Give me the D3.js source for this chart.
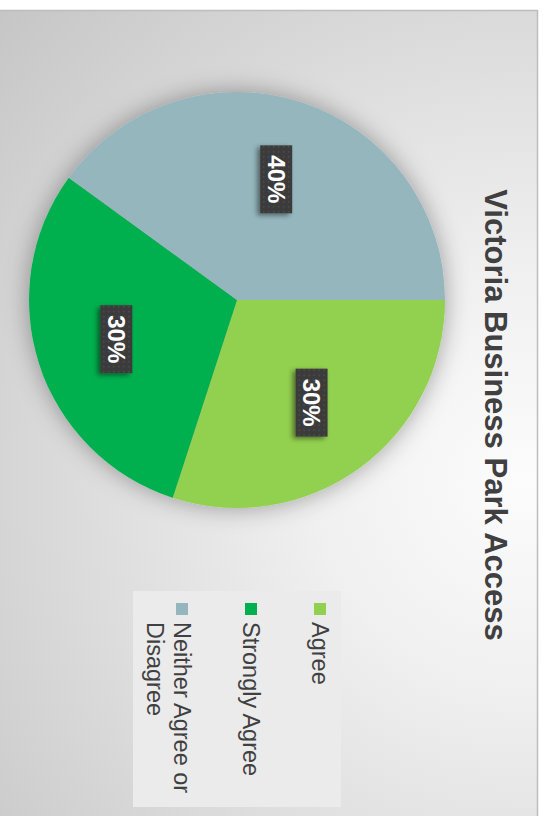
<!DOCTYPE html>
<html>
<head>
<meta charset="utf-8">
<script src="https://cdn.jsdelivr.net/npm/d3@7"></script>
<style>
  body { margin: 0; background: #fff; }
  svg { display: block; }
</style>
</head>
<body>
<div id="chart"></div>
<script>
// data
const categories = ["Agree", "Strongly Agree", "Neither Agree or Disagree"];
const values = [30, 30, 40];
const colors = ["#92D050", "#00B050", "#94B6BC"];
const legendLines = [["Agree"], ["Strongly Agree"], ["Neither Agree or", "Disagree"]];
const title = "Victoria Business Park Access";

const data = categories.map((c, i) => ({name: c, value: values[i], lines: legendLines[i]}));

// page is 544x816, the chart itself is drawn landscape and turned a quarter clockwise
const pageW = 544, pageH = 816;
const W = pageH, H = pageW;

const svg = d3.select("#chart").append("svg")
  .attr("width", pageW)
  .attr("height", pageH);

const defs = svg.append("defs");

const bg = defs.append("radialGradient")
  .attr("id", "bg")
  .attr("gradientUnits", "userSpaceOnUse")
  .attr("cx", 480).attr("cy", 20).attr("r", 700);
bg.append("stop").attr("offset", 0).attr("stop-color", "#fcfcfc");
bg.append("stop").attr("offset", 0.3).attr("stop-color", "#f0f0f0");
bg.append("stop").attr("offset", 1).attr("stop-color", "#c6c6c6");

const pieShadow = defs.append("filter").attr("id", "pieShadow")
  .attr("x", "-30%").attr("y", "-30%").attr("width", "160%").attr("height", "160%");
pieShadow.append("feDropShadow")
  .attr("dx", 0).attr("dy", 0).attr("stdDeviation", 12)
  .attr("flood-color", "#000").attr("flood-opacity", 0.35);

const boxShadow = defs.append("filter").attr("id", "boxShadow")
  .attr("x", "-30%").attr("y", "-30%").attr("width", "160%").attr("height", "160%");
boxShadow.append("feDropShadow")
  .attr("dx", 2).attr("dy", 3).attr("stdDeviation", 2.5)
  .attr("flood-color", "#000").attr("flood-opacity", 0.45);

const dots = defs.append("pattern")
  .attr("id", "dots")
  .attr("patternUnits", "userSpaceOnUse")
  .attr("width", 5).attr("height", 5);
dots.append("rect").attr("width", 5).attr("height", 5).attr("fill", "#3b3b3b");
dots.append("circle").attr("cx", 2.5).attr("cy", 2.5).attr("r", 0.8).attr("fill", "#555");

const g = svg.append("g")
  .attr("transform", `translate(${pageW},0) rotate(90)`);

// chart area
g.append("rect")
  .attr("x", 10.5).attr("y", 6.5)
  .attr("width", W + 10).attr("height", H + 10)
  .attr("fill", "url(#bg)")
  .attr("stroke", "#bdbdbd")
  .attr("stroke-width", 1.5);

// title
g.append("text")
  .attr("x", 415).attr("y", 59)
  .attr("text-anchor", "middle")
  .style("font-family", "'Liberation Sans', Arial, sans-serif")
  .style("font-size", "31px")
  .style("font-weight", "bold")
  .style("fill", "#404040")
  .text(title);

// pie
const cx = 300, cy = 307, radius = 208;
const color = d3.scaleOrdinal().domain(categories).range(colors);
const pie = d3.pie().sort(null).value(d => d.value);
const arc = d3.arc().innerRadius(0).outerRadius(radius);
const labelArc = d3.arc().innerRadius(radius * 0.61).outerRadius(radius * 0.61);
const arcs = pie(data);

const pieG = g.append("g").attr("transform", `translate(${cx},${cy})`);

pieG.append("g")
  .attr("filter", "url(#pieShadow)")
  .selectAll("path")
  .data(arcs)
  .join("path")
  .attr("d", arc)
  .attr("fill", d => color(d.data.name));

const total = d3.sum(values);
const fmt = d3.format(".0%");

const labels = pieG.selectAll("g.label")
  .data(arcs)
  .join("g")
  .attr("class", "label")
  .attr("transform", d => `translate(${labelArc.centroid(d)})`);

labels.append("rect")
  .attr("x", -34).attr("y", -16)
  .attr("width", 68).attr("height", 32)
  .attr("fill", "url(#dots)")
  .attr("filter", "url(#boxShadow)");

labels.append("text")
  .attr("text-anchor", "middle")
  .attr("dy", "0.36em")
  .style("font-family", "'Liberation Sans', Arial, sans-serif")
  .style("font-size", "24px")
  .style("font-weight", "bold")
  .style("fill", "#fff")
  .text(d => fmt(d.data.value / total));

// legend
const legend = g.append("g").attr("transform", "translate(591,203)");
legend.append("rect")
  .attr("width", 216).attr("height", 208)
  .attr("fill", "#ebebeb");

const ly = d3.scalePoint().domain(categories).range([21, 159]);

const entry = legend.selectAll("g.entry")
  .data(data)
  .join("g")
  .attr("class", "entry")
  .attr("transform", d => `translate(0,${ly(d.name)})`);

entry.append("rect")
  .attr("x", 12).attr("y", -6)
  .attr("width", 12).attr("height", 12)
  .attr("fill", d => color(d.name));

entry.append("text")
  .attr("x", 31)
  .style("font-family", "'Liberation Sans', Arial, sans-serif")
  .style("font-size", "23.5px")
  .style("fill", "#404040")
  .selectAll("tspan")
  .data(d => d.lines)
  .join("tspan")
  .attr("x", 31)
  .attr("y", (d, i) => i * 27)
  .attr("dy", "0.36em")
  .text(d => d);
</script>
</body>
</html>
